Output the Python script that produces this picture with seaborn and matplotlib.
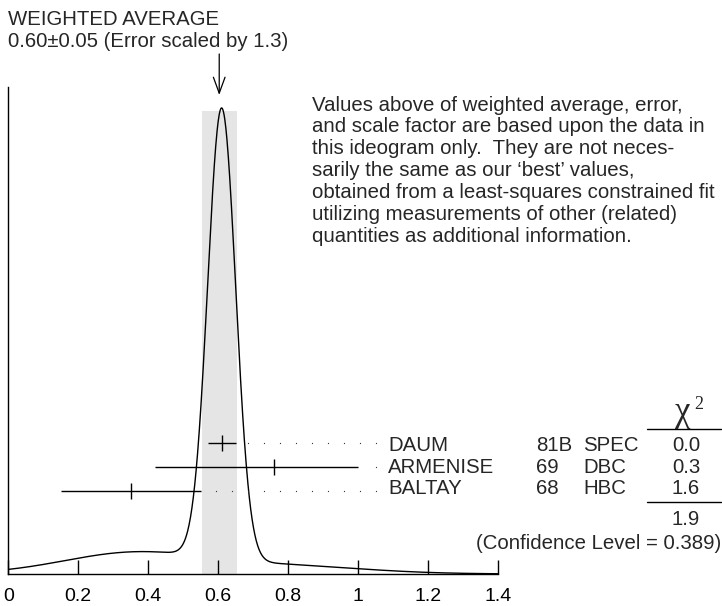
import numpy as np
import matplotlib
matplotlib.use('Agg')
import matplotlib.pyplot as plt
import seaborn as sns

# measurements (value, -error, +error)
experiments = ['DAUM', 'ARMENISE', 'BALTAY']
years = ['81B', '69', '68']
techniques = ['SPEC', 'DBC', 'HBC']
values = [0.61, 0.76, 0.35]
err_minus = [0.04, 0.34, 0.20]
err_plus = [0.04, 0.24, 0.20]
chi2 = ['0.0', '0.3', '1.6']
chi2_total = '1.9'
conf_level = '0.389'

avg_value = 0.603
avg_error = 0.05
scale_factor = 1.3

x_ticks = [0, 0.2, 0.4, 0.6, 0.8, 1, 1.2, 1.4]
x_ticklabels = ['0', '0.2', '0.4', '0.6', '0.8', '1', '1.2', '1.4']

note = ["Values above of weighted average, error,",
        "and scale factor are based upon the data in",
        "this ideogram only.  They are not neces-",
        "sarily the same as our \u2018best\u2019 values,",
        "obtained from a least-squares constrained fit",
        "utilizing measurements of other (related)",
        "quantities as additional information."]

sns.set_style("white")
plt.rcParams['font.family'] = ['Liberation Sans', 'DejaVu Sans']

W, H = 722, 606
fig = plt.figure(figsize=(W / 100, H / 100), dpi=100)
ax_bottom, ax_top = 574, 87
ax = fig.add_axes([8.3 / W, (H - ax_bottom) / H, (498 - 8.3) / W, (ax_bottom - ax_top) / H])


def px_text(x, y, s, **kw):
    # place text by pixel position (from top-left)
    fig.text(x / 100, (H - y) / 100, s, transform=fig.dpi_scale_trans, **kw)


# ideogram: one gaussian per measurement, area ~ 1/error
xg = np.linspace(0, 1.4, 1401)
yg = np.zeros_like(xg)
for v, em, ep in zip(values, err_minus, err_plus):
    s = np.where(xg < v, em, ep)
    sbar = (em + ep) / 2
    yg += np.exp(-0.5 * ((xg - v) / s) ** 2) / sbar ** 2

ytop = yg.max() / 0.957
sns.lineplot(x=xg, y=yg, ax=ax, color='black', lw=1.0)
ax.set_ylim(0, ytop)
ax.set_xlim(0, 1.4)


def frac(py):
    return (ax_bottom - py) / (ax_bottom - ax_top) * ytop


# weighted average band
ax.axvspan(avg_value - avg_error, avg_value + avg_error, ymax=(ax_bottom - 111) / (ax_bottom - ax_top),
           color='#e5e5e5', lw=0, zorder=0)
ax.annotate('', xy=(avg_value, frac(95)), xytext=(avg_value, frac(54)),
            annotation_clip=False,
            arrowprops=dict(arrowstyle='->,head_length=1.15,head_width=0.42', lw=0.9,
                            color='black', shrinkA=0, shrinkB=0))

# measurements with dotted leaders
bar_rows = [442.8, 467.1, 490.7]
text_rows = [451, 472.7, 494.3]
dot_end = (376 - 8.3) / 350
dot_step = 16 / 350
fs = 14.7
for i in range(len(values)):
    yr = frac(bar_rows[i])
    ax.errorbar(values[i], yr, xerr=[[err_minus[i]], [err_plus[i]]], fmt='|', ms=11.5, mew=1.0,
                color='black', elinewidth=1.0, capsize=0, clip_on=False)
    hi = values[i] + err_plus[i]
    dx = dot_end - dot_step * np.arange(30)
    dx = dx[dx > hi + 0.02]
    ax.plot(dx, [yr] * len(dx), ls='none', marker='o', ms=0.9, mew=0, color='#333333', clip_on=False)
    px_text(388.3, text_rows[i], experiments[i], fontsize=fs, va='baseline')
    px_text(535.7, text_rows[i], years[i], fontsize=fs, va='baseline')
    px_text(583.3, text_rows[i], techniques[i], fontsize=fs, va='baseline')
    px_text(686, text_rows[i], chi2[i], fontsize=fs, va='baseline', ha='center')

# chi2 column
px_text(683, 421, '\u03c7', fontsize=25, va='baseline', ha='center', family='Liberation Serif')
px_text(699, 409, '2', fontsize=13, va='baseline', ha='center', family='Liberation Serif')
fig.add_artist(plt.Line2D([647 / W, 721 / W], [(H - 429.3) / H] * 2, color='black', lw=1.0))
fig.add_artist(plt.Line2D([647 / W, 721 / W], [(H - 502.3) / H] * 2, color='black', lw=1.0))
px_text(686, 525, chi2_total, fontsize=fs, va='baseline', ha='center')
px_text(721, 549.3, f'(Confidence Level = {conf_level})', fontsize=fs, va='baseline', ha='right')

# header text
px_text(8.3, 25, 'WEIGHTED AVERAGE', fontsize=fs, va='baseline')
px_text(8.3, 46.7, f'{avg_value:.2f}\u00b1{avg_error:.2f} (Error scaled by {scale_factor})',
        fontsize=fs, va='baseline')
for i, line in enumerate(note):
    px_text(311.7, 110.7 + 21.8 * i, line, fontsize=fs, va='baseline')

# axes styling
sns.despine(ax=ax, top=True, right=True)
for sp in ['left', 'bottom']:
    ax.spines[sp].set_color('black')
    ax.spines[sp].set_linewidth(1.0)
ax.set_yticks([])
ax.set_xticks(x_ticks)
ax.set_xticklabels(x_ticklabels)
ax.tick_params(axis='x', direction='in', length=10, width=1.0, pad=10, labelsize=14,
               bottom=True, colors='black')
ax.set_xlabel('')
ax.set_ylabel('')
ax.patch.set_alpha(0)

plt.savefig('out.png', dpi=100)
